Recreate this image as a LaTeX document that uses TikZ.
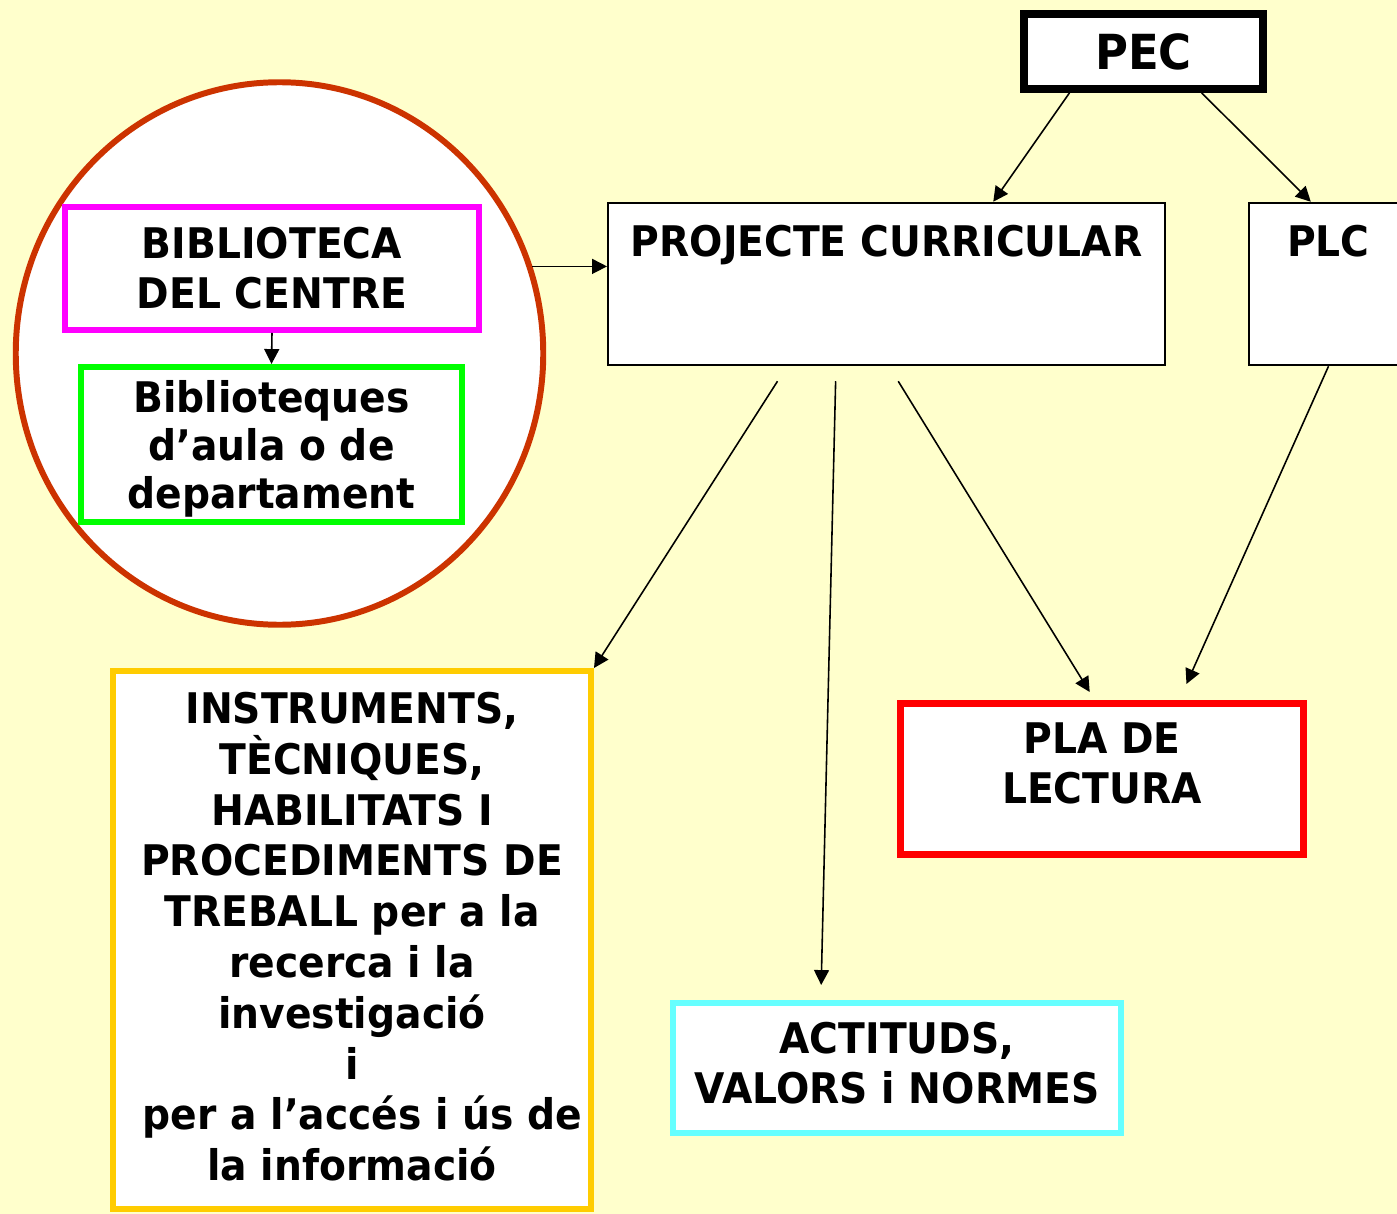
\documentclass[tikz,border=0pt]{standalone}
\usepackage{fontspec}
\setmainfont{DejaVu Sans}[FakeStretch=0.93]
\usetikzlibrary{arrows.meta,calc,shapes.geometric}
\definecolor{fons}{HTML}{FFFFCC}
\definecolor{teula}{HTML}{CC3300}
\definecolor{magenta}{HTML}{FF00FF}
\definecolor{verd}{HTML}{00FF00}
\definecolor{groc}{HTML}{FFCC00}
\definecolor{vermell}{HTML}{FF0000}
\definecolor{cian}{HTML}{66FFFF}
\tikzset{
    %Define standard arrow tip
    >={Triangle[length=8.5pt,width=8.5pt]},
    %Define style for boxes
    caixa/.style={
           rectangle,
           draw=black, line width=1.1pt,
           fill=white,
           inner sep=0pt,
           font=\fontsize{24}{28.4}\selectfont\bfseries,
           align=center},
    capcal/.style={
           caixa,
           text height=17.5pt,
           text depth=49pt,
           inner ysep=13pt},
    marc/.style={
           caixa,
           line width=3.4pt},
    cercle/.style={
           ellipse,
           draw=teula, line width=3.4pt,
           fill=white,
           minimum width=10.55cm,
           minimum height=10.85cm},
    % Define arrow style
    fletxa/.style={
           ->,
           line width=0.9pt}
}
\begin{document}
\begin{tikzpicture}[x=0.2mm,y=-0.2mm]
\fill[fons] (0,0) rectangle (1397,1214);
\useasboundingbox (0,0) rectangle (1397,1214);
\node[cercle] (centre) at (279.5,353.5) {};
\node[caixa, line width=4.5pt, minimum width=4.78cm, minimum height=1.5cm,
      font=\fontsize{27.5}{33}\selectfont\bfseries] (pec) at (1143.5,51.5) {PEC};
\node[capcal, minimum width=11.14cm] (projecte) at (886.5,284) {PROJECTE CURRICULAR};
\node[capcal, minimum width=3.18cm] (plc) at (1328.5,284) {PLC};
\node[marc, draw=magenta, minimum width=8.28cm, minimum height=2.46cm] (biblio) at (272,268.5)
     {BIBLIOTECA\\DEL CENTRE};
\node[marc, draw=verd, minimum width=7.62cm, minimum height=3.1cm, text depth=0pt,
      font=\fontsize{24}{27.2}\selectfont\bfseries] (aula) at (271.5,444.5)
     {Biblioteques\\d’aula o de\\departament};
\node[marc, draw=groc, minimum width=9.56cm, minimum height=10.76cm, text depth=4pt,
      font=\fontsize{24}{28.9}\selectfont\bfseries] (instruments) at (352,940)
     {INSTRUMENTS,\\TÈCNIQUES,\\HABILITATS I\\PROCEDIMENTS DE\\TREBALL per a la\\recerca i la\\investigació\\i\\\hspace*{0.5em}per a l’accés i ús de\\la informació};
\node[marc, draw=vermell, line width=4pt, minimum width=8.06cm, minimum height=3.02cm, text depth=18pt] (pla) at (1102,779)
     {PLA DE\\LECTURA};
\node[marc, draw=cian, minimum width=8.96cm, minimum height=2.6cm, text depth=5.7pt] (actituds) at (897,1068)
     {ACTITUDS,\\VALORS i NORMES};
% connectors
\draw[fletxa] (biblio.south) -- (aula.north);
\draw[fletxa] (centre.19) -- (centre.19 -| projecte.west);
\draw[fletxa] ($(pec.south west)!0.2!(pec.south east)$) -- ($(projecte.north west)!0.691!(projecte.north east)$);
\draw[fletxa] ($(pec.south west)!0.736!(pec.south east)$) -- ($(plc.north west)!0.39!(plc.north east)$);
\draw[fletxa] ($(projecte.south west)!0.305!(projecte.south east)+(0,15)$) -- (instruments.north east);
\draw[fletxa] ($(projecte.south west)!0.409!(projecte.south east)+(0,15)$) -- ($(actituds.north west)!0.333!(actituds.north east)+(0,-15)$);
\draw[fletxa] ($(projecte.south west)!0.521!(projecte.south east)+(0,15)$) -- ($(pla.north west)!0.47!(pla.north east)+(0,-8)$);
\draw[fletxa] (plc.south) -- ($(pla.north west)!0.706!(pla.north east)+(0,-16)$);
\end{tikzpicture}
\end{document}
